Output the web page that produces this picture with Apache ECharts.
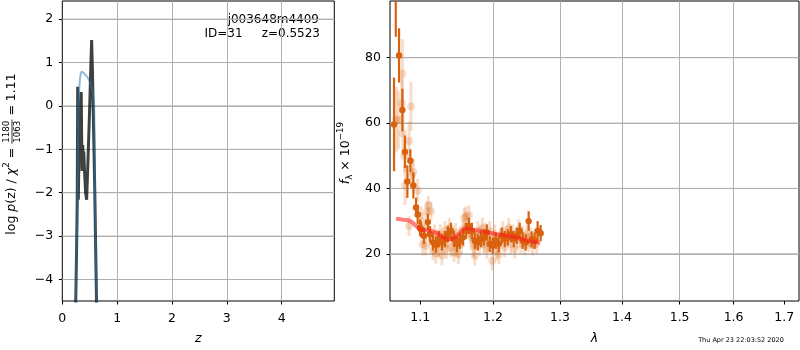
<!DOCTYPE html>
<html><head><meta charset="utf-8">
<script src="https://cdn.jsdelivr.net/npm/echarts@6/dist/echarts.min.js"></script>
<style>html,body{margin:0;padding:0;background:#fff}#c{width:800px;height:350px}</style>
</head><body><div id="c"></div>
<script>
// ---------- data ----------
const zTicks = [0, 1, 2, 3, 4];
const logpTicks = [-4, -3, -2, -1, 0, 1, 2];
const lamTicks = [1.1, 1.2, 1.3, 1.4, 1.5, 1.6, 1.7];
const fluxTicks = [20, 40, 60, 80];

const zBlue = [0.244,0.26,0.276,0.285,0.295,0.31,0.325,0.34,0.355,0.38,0.42,0.46,0.50,0.53,0.56,0.575,0.582,0.59,0.60,0.612,0.625];
const pBlue = [-4.6,-3.4,-2.35,-1.2,-0.06,0.4,0.65,0.76,0.79,0.77,0.72,0.66,0.56,0.45,0.3,0.1,-0.06,-1.0,-2.35,-3.5,-4.6];

const zDark = [0.244,0.262,0.272,0.278,0.281,0.286,0.292,0.300,0.320,0.345,0.352,0.360,0.372,0.382,0.392,0.405,0.425,0.444,0.47,0.50,0.52,0.535,0.55,0.57,0.59,0.605,0.625];
const pDark = [-4.6,-3.2,-2.2,-0.5,0.44,-1.0,-2.16,-1.5,-0.4,0.32,-0.6,-1.5,-0.9,-1.2,-1.05,-1.5,-2.0,-2.16,-1.2,0.0,0.9,1.52,0.8,-0.5,-1.8,-3.0,-4.6];

const lamDark = [1.0660,1.0682,1.0724,1.0767,1.0801,1.0831,1.0870,1.0909,1.0944,1.0966,1.0996,
  1.1009,1.1049,1.1100,1.1128,1.1168,1.1208,1.1248,1.1288,1.1329,1.1369,1.1410,1.1451,1.1492,1.1533,1.1575,1.1616,1.1658,1.1700,1.1742,1.1784,1.1826,1.1868,1.1911,1.1953,1.1996,1.2039,1.2082,1.2126,1.2169,1.2213,1.2257,1.2300,1.2345,1.2389,1.2433,1.2478,1.2522,1.2567,1.2612,1.2657,1.2703];
const fluxDark = [59.6,100,80.7,64.0,51.2,42.1,48.5,40.9,34.2,32.0,28.0,
  27.5,25.5,29.7,26.0,23.5,22.8,24.5,23.5,24.5,26.0,27.0,24.5,23.0,24.0,25.0,27.0,28.5,27.0,24.0,23.5,24.5,25.0,26.5,23.0,22.5,24.0,23.0,25.5,24.5,25.0,26.0,24.5,25.5,27.0,24.0,23.5,30.0,24.4,24.0,27.0,26.3];
const errDark = [14.3,13.6,8.3,6.5,5.0,5.0,3.5,4.0,3.0,3.0,2.5,
  2.5,2.5,2.5,2.5,2.5,2.5,2.5,2.5,2.5,2.5,2.5,2.5,2.5,2.5,2.5,2.5,2.5,2.5,2.5,2.5,2.5,2.5,2.5,2.5,2.5,2.5,2.5,2.5,2.5,2.5,2.5,2.5,2.5,2.5,2.5,2.5,3.0,2.5,2.5,3.0,2.5];

const lamLight = [1.0686,1.0715,1.0759,1.0767,1.0772,1.0792,1.0801,1.0853,1.0879,1.0888,1.0909,1.0966,1.0853,
  1.1009,1.1029,1.1049,1.1069,1.1088,1.1105,1.1128,1.1141,1.1168,1.1188,1.1208,1.1228,1.1248,1.1268,1.1288,1.1308,1.1329,1.1349,1.1369,1.1389,1.1410,1.1430,1.1451,1.1471,1.1492,1.1512,1.1533,1.1554,1.1575,1.1595,1.1616,1.1637,1.1658,1.1679,1.1700,1.1721,1.1742,1.1763,1.1784,1.1805,1.1826,1.1847,1.1868,1.1889,1.1911,1.1932,1.1953,1.1989,1.1996,1.2025,1.2053,1.2082,1.2111,1.2140,1.2169,1.2198,1.2228,1.2257,1.2286,1.2315,1.2345,1.2374,1.2404,1.2433,1.2463,1.2493,1.2522,1.2552,1.2582,1.2612,1.2642];
const fluxLight = [61.0,61.0,66.0,75.2,56.8,50.0,41.0,54.5,65.1,44.0,45.0,39.4,28.5,
  31.5,23.0,28.0,22.5,33.0,34.8,25.0,33.0,21.0,26.0,20.0,24.5,22.0,26.0,19.5,23.0,27.0,21.5,25.0,28.0,22.0,25.5,20.5,26.5,22.0,19.8,25.0,23.0,27.5,31.0,31.5,28.0,31.8,26.0,25.0,22.0,19.4,24.0,27.0,22.5,25.5,28.0,23.0,26.5,21.5,24.0,27.0,17.9,23.5,26.0,21.0,19.8,24.5,27.0,22.0,25.5,28.0,23.0,26.0,21.5,24.5,27.5,23.0,25.5,22.5,26.0,23.5,25.0,22.5,24.5,23.0];
const errLight = [10,9,8,10.5,7,5,6,6,7.5,4,4,3.5,3,
  3,3.5,3,3,3,3,3,3,3,3,3,3,3,3,3,3,3,3,3,3,3,3,3,3,3,3,3,3,3,3,3,3,3,3,3,3,3,3,3,3,3,3,3,3,3,3,3,3,3,3,3,3,3,3,3,3,3,3,3,3,3,3,3,3,3,3,3,3,3,3,3];

const lamModel = [1.0686,1.0780,1.0870,1.0930,1.0996,1.1060,1.1128,1.1200,1.1262,1.1320,1.1374,1.1430,1.1487,1.1545,1.1602,1.1717,1.1850,1.2000,1.2150,1.2296,1.2400,1.2483,1.2580,1.2690];
const fluxModel = [30.7,30.4,30.0,28.8,27.5,27.2,27.1,26.5,25.8,24.9,24.4,24.6,25.4,26.7,27.7,27.4,26.8,26.2,25.7,25.2,24.6,24.1,23.7,23.4];

// ---------- build ----------
const L = Math.log10;
const zip2 = (a, b) => a.map((v, i) => [v, b[i]]);
const FONT = 'DejaVu Sans';
const ORANGE = '#d9620e';
const GRIDC = '#b0b0b0';
const minus = v => (v < 0 ? '\u2212' + Math.abs(v) : String(v));

function errItem(color, op, lw, r) {
  return function (params, api) {
    const x = api.value(0), y = api.value(1), e = api.value(2);
    const p = api.coord([x, y]);
    const lo = api.coord([x, y - e]);
    const hi = api.coord([x, y + e]);
    return {
      type: 'group',
      children: [
        { type: 'line', shape: { x1: p[0], y1: lo[1], x2: p[0], y2: hi[1] }, style: { stroke: color, lineWidth: lw, opacity: op } },
        { type: 'circle', shape: { cx: p[0], cy: p[1], r: r }, style: { fill: color, opacity: op } }
      ]
    };
  };
}
// horizontal grid line at a y tick value
function hLine(params, api) {
  const cs = params.coordSys;
  const y = api.coord([api.value(0), api.value(1)])[1];
  return { type: 'line', shape: { x1: cs.x, y1: y, x2: cs.x + cs.width, y2: y }, style: { stroke: GRIDC, lineWidth: 1 } };
}

// rotated math-like labels built from text pieces
const cnv = document.createElement('canvas').getContext('2d');
function tw(t, f) { cnv.font = f; return cnv.measureText(t).width; }
function rotLabel(px, py, pieces) {
  const kids = [];
  let x = 0;
  pieces.forEach(p => {
    if (p.frac) {
      const w = Math.max(tw(p.frac[0], p.f), tw(p.frac[1], p.f)) + 2;
      kids.push({ type: 'text', x: x + w / 2, y: -5.5, style: { text: p.frac[0], font: p.f, fill: '#000', align: 'center', verticalAlign: 'middle' } });
      kids.push({ type: 'text', x: x + w / 2, y: 5.5, style: { text: p.frac[1], font: p.f, fill: '#000', align: 'center', verticalAlign: 'middle' } });
      kids.push({ type: 'rect', x: x, y: -0.4, shape: { x: 0, y: 0, width: w, height: 0.8 }, style: { fill: '#000' } });
      x += w;
    } else {
      kids.push({ type: 'text', x: x, y: p.dy || 0, style: { text: p.t, font: p.f, fill: '#000', align: 'left', verticalAlign: 'middle' } });
      x += tw(p.t, p.f);
    }
  });
  const half = x / 2;
  kids.forEach(k => { k.x = k.x - half; });
  return { type: 'group', x: px, y: py, rotation: Math.PI / 2, children: kids };
}
const base = '12.5px "' + FONT + '"';
const ital = 'italic 12.5px "' + FONT + '"';
const small = '8.75px "' + FONT + '"';

const leftLabel = rotLabel(12, 154, [
  { t: 'log ', f: base }, { t: 'p', f: ital }, { t: '(z) / ', f: base }, { t: '\u03c7', f: ital },
  { t: '2', f: small, dy: -5 }, { t: ' = ', f: base }, { frac: ['1180', '1063'], f: small }, { t: ' = 1.11', f: base }
]);
const rightLabel = rotLabel(345.5, 153, [
  { t: 'f', f: ital }, { t: '\u03bb', f: small, dy: 4 }, { t: ' \u00d7 10', f: base }, { t: '\u221219', f: small, dy: -5 }
]);

const nameStyle = { fontFamily: FONT, fontSize: 12.5, fontStyle: 'italic', color: '#000' };
const tickStyle = { show: true, inside: false, length: 3.5, lineStyle: { color: '#000', width: 1 } };
const splitStyle = { show: true, showMinLine: false, showMaxLine: false, lineStyle: { color: GRIDC, width: 1 } };
const labelBase = { color: '#000', fontFamily: FONT, fontSize: 12.5 };

const option = {
  animation: false,
  backgroundColor: '#fff',
  grid: [
    { left: 62.3, top: 1, width: 272, height: 303, show: true, borderColor: '#000', borderWidth: 1 },
    { left: 390, top: 1, width: 409, height: 303, show: true, borderColor: '#000', borderWidth: 1 }
  ],
  xAxis: [
    { gridIndex: 0, type: 'value', min: 0, max: 4.96, interval: 1,
      axisLine: { show: false, onZero: false }, axisTick: tickStyle, splitLine: splitStyle,
      axisLabel: Object.assign({}, labelBase, { margin: 11, showMaxLabel: false, formatter: v => (zTicks.indexOf(v) >= 0 ? String(v) : '') }),
      name: 'z', nameLocation: 'middle', nameGap: 31, nameTextStyle: nameStyle },
    { gridIndex: 1, type: 'value', min: L(1.1) - 30.3 / 1925.3, max: L(1.1) + 378.7 / 1925.3,
      axisLine: { show: false, onZero: false },
      axisTick: Object.assign({}, tickStyle, { customValues: lamTicks.map(L) }),
      splitLine: splitStyle,
      axisLabel: Object.assign({}, labelBase, { margin: 10, customValues: lamTicks.map(L), formatter: v => Math.pow(10, v).toFixed(1) }),
      name: '\u03bb', nameLocation: 'middle', nameGap: 31, nameTextStyle: nameStyle }
  ],
  yAxis: [
    { gridIndex: 0, type: 'value', min: -4.495, max: 2.418, splitNumber: 7,
      axisLine: { show: false, onZero: false }, axisTick: tickStyle, splitLine: splitStyle,
      axisLabel: Object.assign({}, labelBase, { margin: 9, showMinLabel: false, showMaxLabel: false,
        formatter: v => (logpTicks.indexOf(v) >= 0 ? minus(v) : '') }) },
    { gridIndex: 1, type: 'value', min: 5.55, max: 97.36, splitNumber: 5,
      axisLine: { show: false, onZero: false }, axisTick: tickStyle, splitLine: splitStyle,
      axisLabel: Object.assign({}, labelBase, { margin: 9, showMinLabel: false, showMaxLabel: false,
        formatter: v => (fluxTicks.indexOf(v) >= 0 ? String(v) : '') }) }
  ],
  graphic: [
    leftLabel, rightLabel,
    { type: 'text', x: 319, y: 20, style: { text: 'j003648m4409', font: '12px "' + FONT + '"', fill: '#000', align: 'right', verticalAlign: 'middle' } },
    { type: 'text', x: 320, y: 34, style: { text: 'ID=31     z=0.5523', font: '12px "' + FONT + '"', fill: '#000', align: 'right', verticalAlign: 'middle' } },
    { type: 'text', x: 741, y: 340, style: { text: 'Thu Apr 23 22:03:52 2020', font: '6.5px "' + FONT + '"', fill: '#000', align: 'center', verticalAlign: 'middle' } }
  ],
  series: [
    { type: 'custom', xAxisIndex: 0, yAxisIndex: 0,
      data: logpTicks.map(v => [1, v, 0]), renderItem: hLine },
    { type: 'custom', xAxisIndex: 1, yAxisIndex: 1,
      data: fluxTicks.map(v => [L(1.2), v, 0]), renderItem: hLine },
    { type: 'line', xAxisIndex: 0, yAxisIndex: 0, data: zip2(zDark, pDark), showSymbol: false, clip: true,
      lineStyle: { color: '#000', opacity: 0.75, width: 3 } },
    { type: 'line', xAxisIndex: 0, yAxisIndex: 0, data: zip2(zBlue, pBlue), showSymbol: false, clip: true, smooth: 0.3,
      lineStyle: { color: '#1f77b4', opacity: 0.5, width: 2 } },
    { type: 'custom', xAxisIndex: 1, yAxisIndex: 1, clip: true,
      data: lamLight.map((l, i) => [L(l), fluxLight[i], errLight[i]]),
      renderItem: errItem(ORANGE, 0.22, 3, 4) },
    { type: 'custom', xAxisIndex: 1, yAxisIndex: 1, clip: true,
      data: lamDark.map((l, i) => [L(l), fluxDark[i], errDark[i]]),
      renderItem: errItem(ORANGE, 1, 2.2, 3.2) },
    { type: 'line', xAxisIndex: 1, yAxisIndex: 1, data: lamModel.map((l, i) => [L(l), fluxModel[i]]), showSymbol: false, smooth: 0.4,
      lineStyle: { color: '#ff1a1a', opacity: 0.55, width: 4 } }
  ]
};
const chart = echarts.init(document.getElementById('c'), null, { renderer: 'canvas' });
chart.setOption(option);
</script>
</body></html>
